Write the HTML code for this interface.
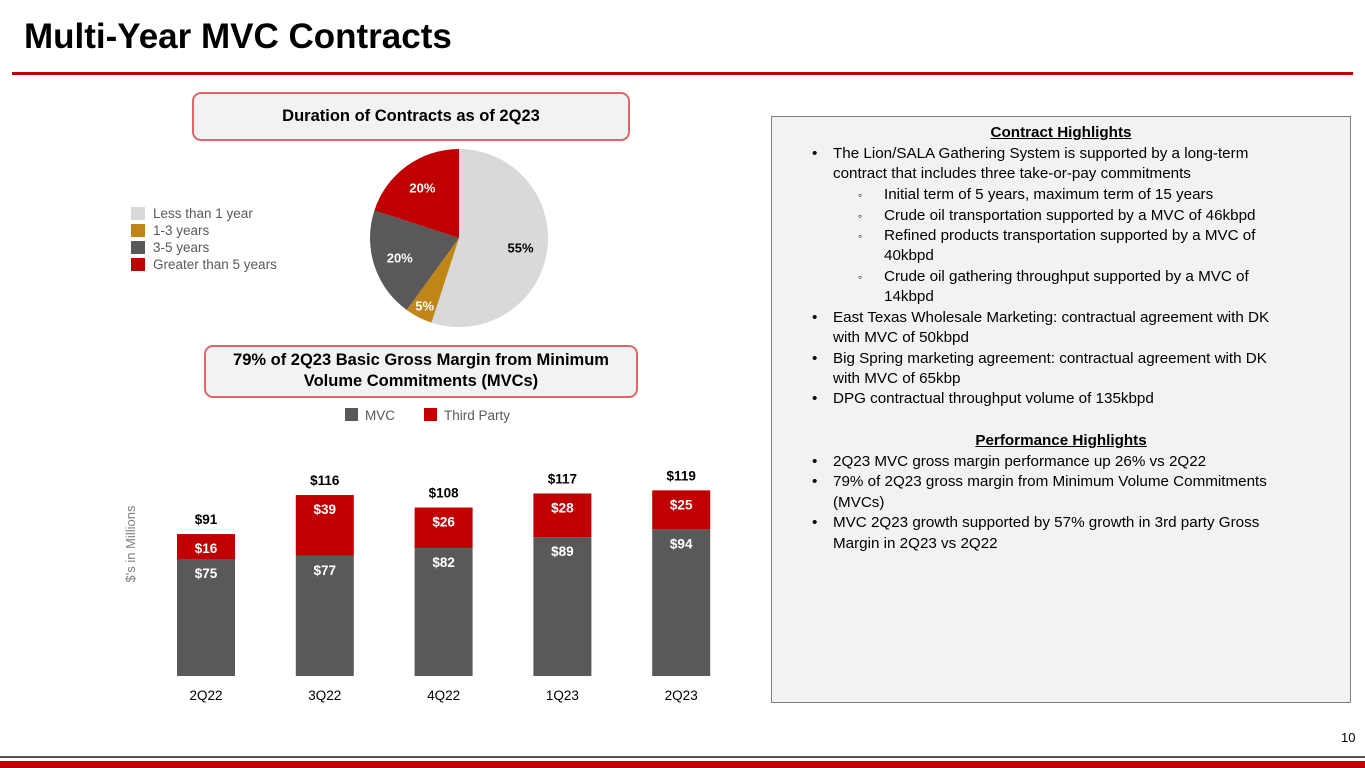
<!DOCTYPE html>
<html><head><meta charset="utf-8">
<style>
body{margin:0;width:1365px;height:768px;position:relative;background:#fff;font-family:"Liberation Sans",sans-serif;overflow:hidden}
.abs{position:absolute}
.panel{left:771px;top:116px;width:578px;height:585px;background:#f2f2f2;border:1px solid #7f7f7f}
.ln{position:absolute;font-size:15.2px;color:#000;white-space:nowrap;line-height:18px}
.hdbox{position:absolute;background:#f2f2f2;border:2px solid #e06666;border-radius:9px;font-weight:bold;color:#000;text-align:center;font-size:16.5px}
</style></head><body>
<div class="abs" style="left:24px;top:17px;font-size:35px;font-weight:bold;color:#000">Multi-Year MVC Contracts</div>
<div class="abs" style="left:12px;top:72px;width:1341px;height:3px;background:#c00000"></div>

<div class="hdbox" style="left:192px;top:92px;width:434px;height:45px;line-height:45px">Duration of Contracts as of 2Q23</div>
<div class="hdbox" style="left:204px;top:345px;width:434px;height:53px;line-height:21px;padding-top:3px;box-sizing:border-box">79% of 2Q23 Basic Gross Margin from Minimum<br>Volume Commitments (MVCs)</div>

<svg class="abs" style="left:0;top:0" width="771" height="720">
<g id="pie"></g>
<g id="pieLegend"></g>
<g id="bars"></g>
<text x="135" y="544" transform="rotate(-90 135 544)" text-anchor="middle" font-size="13" fill="#7f7f7f">$'s in Millions</text>
</svg>

<div class="abs panel"></div>
<div id="txt"></div>

<div class="abs" style="left:1341px;top:730px;font-size:13px">10</div>
<div class="abs" style="left:0;top:756px;width:1365px;height:2px;background:#555"></div>
<div class="abs" style="left:0;top:761px;width:1365px;height:7px;background:#c00000"></div>

<script>
const pieLabels=["Less than 1 year","1-3 years","3-5 years","Greater than 5 years"];
const pieValues=[55,5,20,20];
const pieColors=["#d9d9d9","#bf8517","#595959","#c00000"];
const barCats=["2Q22","3Q22","4Q22","1Q23","2Q23"];
const mvcVals=[75,77,82,89,94];
const thirdVals=[16,39,26,28,25];
const totalVals=[91,116,108,117,119];

const NS="http://www.w3.org/2000/svg";
function mk(p,t,a){const e=document.createElementNS(NS,t);for(const k in a)e.setAttribute(k,a[k]);p.appendChild(e);return e;}
const pie=document.getElementById('pie');const cx=459,cy=238,r=89;
let tot=pieValues.reduce((a,b)=>a+b,0),acc=0;
pieValues.forEach((v,i)=>{
 const a0=acc/tot*2*Math.PI;acc+=v;const a1=acc/tot*2*Math.PI;
 const x0=cx+r*Math.sin(a0),y0=cy-r*Math.cos(a0),x1=cx+r*Math.sin(a1),y1=cy-r*Math.cos(a1);
 const p=mk(pie,'path',{d:`M${cx},${cy}L${x0},${y0}A${r},${r} 0 ${a1-a0>Math.PI?1:0} 1 ${x1},${y1}Z`,fill:pieColors[i]});
 
 
 const am=(a0+a1)/2, lr=i==1?r*0.85:r*0.7;
 const t=mk(pie,'text',{x:cx+lr*Math.sin(am),y:cy-lr*Math.cos(am)+5,'text-anchor':'middle','font-size':13,'font-weight':'bold',fill:i==0?'#000':'#fff'});
 t.textContent=v+'%';
 
 
});
const pl=document.getElementById('pieLegend');
pieLabels.forEach((s,i)=>{
 const y=207+i*17;
 const rc=mk(pl,'rect',{x:131,y:y,width:14,height:13,fill:pieColors[i]});
 
 
 const t=mk(pl,'text',{x:153,y:y+11,'font-size':13.5,fill:'#595959'});t.textContent=s;
 
 
});
const bg=document.getElementById('bars');
const base=676,k=1.56,bw=58;
const xc=i=>206+i*118.8;
const yv=v=>base-v*k;
[["MVC","#595959",345],["Third Party","#c00000",424]].forEach(([s,c,x])=>{
 const rc=mk(bg,'rect',{x:x,y:408,width:13,height:13,fill:c});
 
 
 const t=mk(bg,'text',{x:x+20,y:420,'font-size':13.5,fill:'#595959'});t.textContent=s;
 
 
});
barCats.forEach((c,i)=>{
 const x=xc(i)-bw/2;
 const m=mk(bg,'rect',{x:x,y:yv(mvcVals[i]),width:bw,height:mvcVals[i]*k,fill:'#595959'});
 
 
 const tp=mk(bg,'rect',{x:x,y:yv(mvcVals[i]+thirdVals[i]),width:bw,height:thirdVals[i]*k,fill:'#c00000'});
 
 
 const t1=mk(bg,'text',{x:xc(i),y:yv(mvcVals[i])+19,'text-anchor':'middle','font-size':13.5,'font-weight':'bold',fill:'#fff'});t1.textContent='$'+mvcVals[i];
 
 
 const t2=mk(bg,'text',{x:xc(i),y:yv(mvcVals[i]+thirdVals[i])+19,'text-anchor':'middle','font-size':13.5,'font-weight':'bold',fill:'#fff'});t2.textContent='$'+thirdVals[i];
 
 
 const t3=mk(bg,'text',{x:xc(i),y:yv(totalVals[i])-10,'text-anchor':'middle','font-size':13.5,'font-weight':'bold',fill:'#000'});t3.textContent='$'+totalVals[i];
 
 
 const t4=mk(bg,'text',{x:xc(i),y:700,'text-anchor':'middle','font-size':13.5,fill:'#000'});t4.textContent=c;
 
 
});
const lines=[
[133,0,"Contract Highlights","h"],
[154,0,"The Lion/SALA Gathering System is supported by a long-term","b"],
[174,1,"contract that includes three take-or-pay commitments",""],
[195,2,"Initial term of 5 years, maximum term of 15 years","s"],
[216,2,"Crude oil transportation supported by a MVC of 46kbpd","s"],
[236,2,"Refined products transportation supported by a MVC of","s"],
[256,3,"40kbpd",""],
[277,2,"Crude oil gathering throughput supported by a MVC of","s"],
[297,3,"14kbpd",""],
[318,0,"East Texas Wholesale Marketing: contractual agreement with DK","b"],
[338,1,"with MVC of 50kbpd",""],
[359,0,"Big Spring marketing agreement: contractual agreement with DK","b"],
[379,1,"with MVC of 65kbp",""],
[399,0,"DPG contractual throughput volume of 135kbpd","b"],
[441,0,"Performance Highlights","h"],
[462,0,"2Q23 MVC gross margin performance up 26% vs 2Q22","b"],
[482,0,"79% of 2Q23 gross margin from Minimum Volume Commitments","b"],
[503,1,"(MVCs)",""],
[523,0,"MVC 2Q23 growth supported by 57% growth in 3rd party Gross","b"],
[544,1,"Margin in 2Q23 vs 2Q22",""]];
const txt=document.getElementById('txt');
lines.forEach(([y,lvl,s,tp])=>{
 const d=document.createElement('div');d.className='ln';d.style.top=(y-9)+'px';
 if(tp==='h'){d.style.left='771px';d.style.width='580px';d.style.textAlign='center';d.style.fontWeight='bold';d.style.textDecoration='underline';d.textContent=s;}
 else{
  const lx=[833,833,884,884][lvl];d.style.left=lx+'px';d.textContent=s;
  if(tp==='b'){const b=document.createElement('span');b.textContent='•';b.style.position='absolute';b.style.left='-21px';d.appendChild(b);}
  if(tp==='s'){const b=document.createElement('span');b.textContent='◦';b.style.position='absolute';b.style.left='-26px';b.style.fontSize='12px';d.appendChild(b);}
 }
 
 
 txt.appendChild(d);
});
</script>
</body></html>
